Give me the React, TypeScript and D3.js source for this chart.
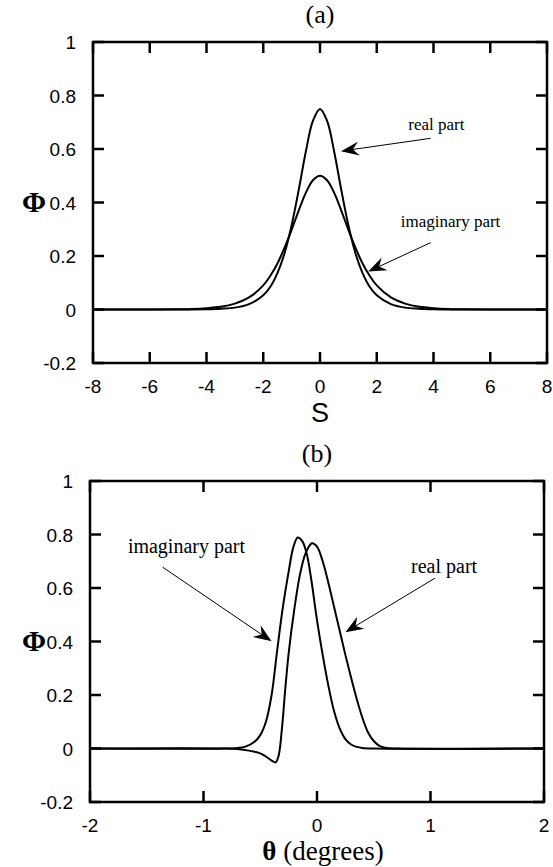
import * as d3 from "d3";

// panel (a): S axis
const sTicks = [-8, -6, -4, -2, 0, 2, 4, 6, 8];
const sValues = [-8, -6, -5, -4.5, -4, -3.5, -3, -2.5, -2, -1.75, -1.5, -1.25, -1, -0.75, -0.5, -0.25, 0, 0.25, 0.5, 0.75, 1, 1.25, 1.5, 1.75, 2, 2.5, 3, 3.5, 4, 4.5, 5, 6, 8];
const realA = [0, 0, 0, 0, 0.001, 0.003, 0.007, 0.02, 0.053, 0.085, 0.136, 0.21, 0.315, 0.447, 0.59, 0.705, 0.75, 0.705, 0.59, 0.447, 0.315, 0.21, 0.136, 0.085, 0.053, 0.02, 0.007, 0.003, 0.001, 0, 0, 0, 0];
const imagA = [0, 0.0002, 0.001, 0.002, 0.005, 0.01, 0.022, 0.045, 0.09, 0.126, 0.172, 0.231, 0.298, 0.37, 0.436, 0.483, 0.5, 0.483, 0.436, 0.37, 0.298, 0.231, 0.172, 0.126, 0.09, 0.045, 0.022, 0.01, 0.005, 0.002, 0.001, 0.0002, 0];

// panel (b): theta axis
const thetaTicks = [-2, -1, 0, 1, 2];
const thetaImag = [-2, -0.8, -0.7, -0.63, -0.55, -0.5, -0.45, -0.4, -0.35, -0.3, -0.25, -0.21, -0.17, -0.13, -0.09, -0.05, 0, 0.05, 0.1, 0.15, 0.2, 0.25, 0.3, 0.35, 0.4, 0.5, 2];
const imagB = [0, 0, 0.002, 0.007, 0.025, 0.05, 0.1, 0.2, 0.37, 0.53, 0.66, 0.75, 0.789, 0.775, 0.727, 0.63, 0.48, 0.35, 0.235, 0.14, 0.075, 0.035, 0.015, 0.006, 0.002, 0, 0];
const thetaReal = [-2, -0.8, -0.7, -0.6, -0.5, -0.45, -0.4, -0.366, -0.34, -0.31, -0.28, -0.25, -0.2, -0.15, -0.1, -0.045, 0, 0.05, 0.1, 0.15, 0.2, 0.25, 0.3, 0.35, 0.4, 0.45, 0.5, 0.55, 0.6, 0.7, 2];
const realB = [0, 0, -0.002, -0.008, -0.018, -0.03, -0.045, -0.052, -0.03, 0.07, 0.22, 0.355, 0.52, 0.65, 0.73, 0.767, 0.755, 0.7, 0.62, 0.53, 0.44, 0.35, 0.265, 0.185, 0.115, 0.06, 0.028, 0.01, 0.003, 0, 0];

const phiTicks = [-0.2, 0, 0.2, 0.4, 0.6, 0.8, 1];
const phiLabels = ["-0.2", "0", "0.2", "0.4", "0.6", "0.8", "1"];

const serif = "'Liberation Serif', 'DejaVu Serif', serif";
const sans = "'Liberation Sans', Arial, sans-serif";

type Note = { label: string; text: [number, number]; tail: [number, number]; tip: [number, number] };

const notesA: Note[] = [
  { label: "real part", text: [4.1, 0.69], tail: [3.9, 0.64], tip: [0.74, 0.592] },
  { label: "imaginary part", text: [4.6, 0.327], tail: [3.9, 0.25], tip: [1.7, 0.142] },
];
const notesB: Note[] = [
  { label: "imaginary part", text: [-1.15, 0.752], tail: [-1.36, 0.678], tip: [-0.4, 0.401] },
  { label: "real part", text: [1.12, 0.678], tail: [1.04, 0.637], tip: [0.25, 0.435] },
];

function Arrow({ x1, y1, x2, y2 }: { x1: number; y1: number; x2: number; y2: number }) {
  const a = Math.atan2(y2 - y1, x2 - x1);
  const len = 18, half = 7, notch = 12;
  const pt = (d: number, w: number) => [x2 - d * Math.cos(a) - w * Math.sin(a), y2 - d * Math.sin(a) + w * Math.cos(a)];
  const p1 = pt(len, half), p2 = pt(notch, 0), p3 = pt(len, -half);
  return (
    <g>
      <line x1={x1} y1={y1} x2={p2[0]} y2={p2[1]} stroke="#000" strokeWidth={1} />
      <path d={`M${x2},${y2}L${p1[0]},${p1[1]}L${p2[0]},${p2[1]}L${p3[0]},${p3[1]}Z`} fill="#000" />
    </g>
  );
}

function Panel({ top, left, right, xDomain, xTicks, title, series, notes, noteSize, xLabel }: any) {
  const bottom = top + 321;
  const x = d3.scaleLinear().domain(xDomain).range([left, right]);
  const y = d3.scaleLinear().domain([-0.2, 1]).range([bottom, top]);
  const line = d3.line<[number, number]>().x((d) => x(d[0])).y((d) => y(d[1])).curve(d3.curveCatmullRom);
  const tl = 11;
  const midX = (left + right) / 2;
  return (
    <g>
      <text x={x(0)} y={top - 19} textAnchor="middle" fontFamily={serif} fontSize={26}>{title}</text>
      {series.map((s: [number, number][], i: number) => (
        <path key={i} d={line(s) || ""} fill="none" stroke="#000" strokeWidth={2} />
      ))}
      {xTicks.map((t: number) => (
        <g key={t}>
          <line x1={x(t)} x2={x(t)} y1={bottom} y2={bottom - tl} stroke="#000" strokeWidth={2.5} />
          <line x1={x(t)} x2={x(t)} y1={top} y2={top + tl} stroke="#000" strokeWidth={2.5} />
          <text x={x(t)} y={bottom + 30} textAnchor="middle" fontFamily={sans} fontSize={19}>{t}</text>
        </g>
      ))}
      {phiTicks.map((t, i) => (
        <g key={t}>
          <line x1={left} x2={left + tl} y1={y(t)} y2={y(t)} stroke="#000" strokeWidth={2.5} />
          <line x1={right} x2={right - tl} y1={y(t)} y2={y(t)} stroke="#000" strokeWidth={2.5} />
          <text x={left - 17} y={y(t) + 7} textAnchor="end" fontFamily={sans} fontSize={19}>{phiLabels[i]}</text>
        </g>
      ))}
      <rect x={left} y={top} width={right - left} height={bottom - top} fill="none" stroke="#000" strokeWidth={2.5} />
      <text x={34} y={(top + bottom) / 2 + 9} textAnchor="middle" fontFamily={serif} fontWeight="bold" fontSize={29}>Φ</text>
      {notes.map((n: Note) => (
        <g key={n.label}>
          <text x={x(n.text[0])} y={y(n.text[1]) + noteSize * 0.3} textAnchor="middle" fontFamily={serif} fontSize={noteSize}>{n.label}</text>
          <Arrow x1={x(n.tail[0])} y1={y(n.tail[1])} x2={x(n.tip[0])} y2={y(n.tip[1])} />
        </g>
      ))}
      {xLabel(midX, bottom)}
    </g>
  );
}

export default function App() {
  const zip = (xs: number[], ys: number[]) => xs.map((v, i) => [v, ys[i]] as [number, number]);
  return (
    <svg width={553} height={867} style={{ position: "absolute", left: 0, top: 0, background: "#fff" }}>
      <rect width={553} height={867} fill="#fff" />
      <Panel
        top={42}
        left={93}
        right={547}
        xDomain={[-8, 8]}
        xTicks={sTicks}
        title="(a)"
        series={[zip(sValues, realA), zip(sValues, imagA)]}
        notes={notesA}
        noteSize={17}
        xLabel={(mx: number, b: number) => (
          <text x={mx} y={b + 59} textAnchor="middle" fontFamily={sans} fontSize={27}>S</text>
        )}
      />
      <Panel
        top={481}
        left={90}
        right={544}
        xDomain={[-2, 2]}
        xTicks={thetaTicks}
        title="(b)"
        series={[zip(thetaReal, realB), zip(thetaImag, imagB)]}
        notes={notesB}
        noteSize={20}
        xLabel={(mx: number, b: number) => (
          <text x={mx + 6} y={b + 58} textAnchor="middle" fontFamily={serif} fontSize={27}>
            <tspan fontWeight="bold">θ</tspan> (degrees)
          </text>
        )}
      />
    </svg>
  );
}
